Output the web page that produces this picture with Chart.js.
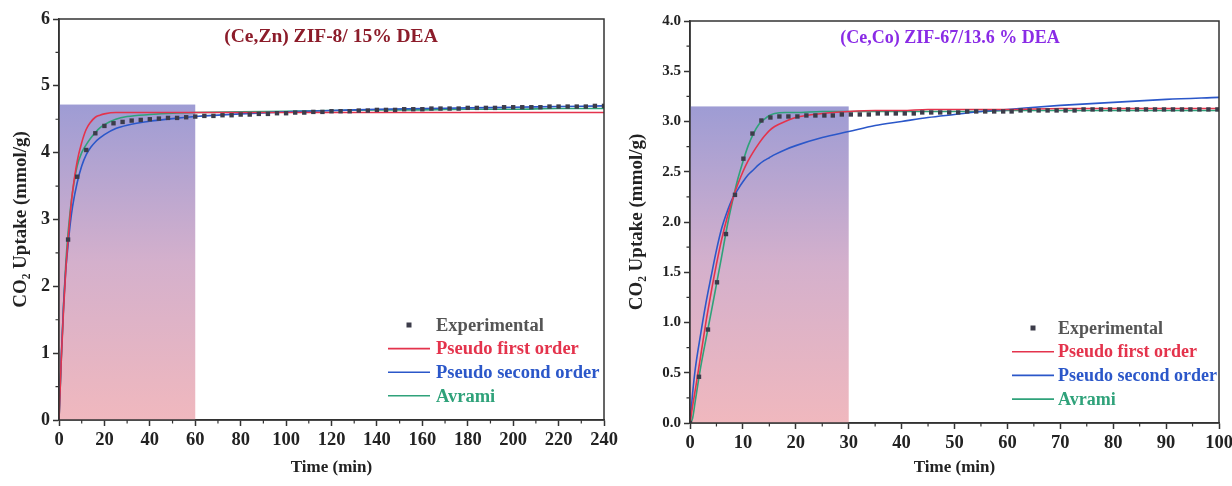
<!DOCTYPE html>
<html>
<head>
<meta charset="utf-8">
<script src="https://cdn.jsdelivr.net/npm/chart.js@4.4.1/dist/chart.umd.min.js"></script>
<style>
  html, body { margin: 0; padding: 0; background: #fff; }
  #wrap { position: relative; width: 1232px; height: 486px; overflow: hidden; }
  .box { position: absolute; top: 0; height: 486px; }
</style>
</head>
<body>
<div id="wrap">
  <div class="box" style="left:0;width:640px"><canvas id="chartZn"></canvas></div>
  <div class="box" style="left:616px;width:616px"><canvas id="chartCo"></canvas></div>
</div>
<script>
// ---- (Ce,Zn) ZIF-8 / 15% DEA ----
const znTime = [4, 8, 12, 16, 20, 24, 28, 32, 36, 40, 44, 48, 52, 56, 60, 64, 68, 72, 76, 80,
  84, 88, 92, 96, 100, 104, 108, 112, 116, 120, 124, 128, 132, 136, 140, 144, 148, 152, 156, 160,
  164, 168, 172, 176, 180, 184, 188, 192, 196, 200, 204, 208, 212, 216, 220, 224, 228, 232, 236, 240];
const znExp = [2.70, 3.64, 4.04, 4.29, 4.40, 4.44, 4.46, 4.48, 4.49, 4.50, 4.51, 4.52, 4.52, 4.53, 4.54, 4.55, 4.55, 4.56, 4.56, 4.57,
  4.57, 4.58, 4.58, 4.59, 4.59, 4.60, 4.60, 4.61, 4.61, 4.62, 4.62, 4.62, 4.63, 4.63, 4.64, 4.64, 4.64, 4.65, 4.65, 4.65,
  4.66, 4.66, 4.66, 4.66, 4.67, 4.67, 4.67, 4.67, 4.68, 4.68, 4.68, 4.68, 4.68, 4.69, 4.69, 4.69, 4.69, 4.69, 4.70, 4.70];
const znFitTime = [0, 1, 2, 3, 4, 5, 6, 8, 10, 12, 14, 16, 18, 20, 25, 30, 40, 50, 60, 80, 100, 120, 140, 160, 180, 200, 220, 240];
const znPFO = [0, 0.9, 1.65, 2.25, 2.7, 3.1, 3.42, 3.87, 4.15, 4.35, 4.46, 4.53, 4.56, 4.58,
  4.6, 4.6, 4.6, 4.6, 4.6, 4.6, 4.6, 4.6, 4.6, 4.6, 4.6, 4.6, 4.6, 4.6];
const znPSO = [0, 0.95, 1.7, 2.25, 2.62, 2.95, 3.2, 3.55, 3.8, 3.97, 4.08, 4.16, 4.22, 4.27,
  4.36, 4.41, 4.47, 4.51, 4.54, 4.58, 4.61, 4.63, 4.65, 4.66, 4.67, 4.68, 4.69, 4.7];
const znAvrami = [0, 0.9, 1.72, 2.35, 2.8, 3.15, 3.42, 3.8, 4.0, 4.12, 4.22, 4.3, 4.37, 4.42,
  4.5, 4.54, 4.57, 4.59, 4.6, 4.61, 4.62, 4.63, 4.64, 4.64, 4.65, 4.65, 4.66, 4.66];
const znShade = [0, 60, 4.72]; // from t, to t, height

// ---- (Ce,Co) ZIF-67 / 13.6 % DEA ----
const coTime = [0, 1.7, 3.4, 5.1, 6.8, 8.5, 10.1, 11.8, 13.5, 15.2, 16.9, 18.6, 20.3, 22.0, 23.7, 25.4, 27.0, 28.7, 30.4, 32.1,
  33.8, 35.5, 37.2, 38.9, 40.6, 42.3, 43.9, 45.6, 47.3, 49.0, 50.7, 52.4, 54.1, 55.8, 57.5, 59.2, 60.8, 62.5, 64.2, 65.9,
  67.6, 69.3, 71.0, 72.7, 74.4, 76.1, 77.7, 79.4, 81.1, 82.8, 84.5, 86.2, 87.9, 89.6, 91.3, 93.0, 94.6, 96.3, 98.0, 99.7];
const coExp = [0, 0.46, 0.93, 1.40, 1.88, 2.27, 2.63, 2.88, 3.01, 3.04, 3.05, 3.05, 3.05, 3.06, 3.06, 3.06, 3.06, 3.07, 3.07, 3.07,
  3.07, 3.08, 3.08, 3.08, 3.08, 3.08, 3.09, 3.09, 3.09, 3.09, 3.09, 3.10, 3.10, 3.10, 3.10, 3.10, 3.10, 3.11, 3.11, 3.11,
  3.11, 3.11, 3.11, 3.11, 3.12, 3.12, 3.12, 3.12, 3.12, 3.12, 3.12, 3.12, 3.12, 3.12, 3.12, 3.12, 3.12, 3.12, 3.12, 3.12];
const coFitTime = [0, 0.5, 1, 2, 3, 4, 5, 6, 7, 8, 9, 10, 11, 12, 13, 14, 15, 16, 18, 20, 25, 30, 35, 40, 45, 50, 55, 60, 70, 80, 90, 100];
const coPFO = [0, 0.17, 0.33, 0.66, 1.0, 1.3, 1.58, 1.83, 2.04, 2.22, 2.37, 2.5, 2.61, 2.7, 2.78, 2.85,
  2.91, 2.95, 3.0, 3.04, 3.08, 3.1, 3.11, 3.11, 3.12, 3.12, 3.12, 3.12, 3.13, 3.13, 3.13, 3.13];
const coPSO = [0, 0.3, 0.54, 0.88, 1.19, 1.46, 1.72, 1.94, 2.1, 2.23, 2.32, 2.4, 2.47, 2.52, 2.57, 2.61,
  2.64, 2.67, 2.72, 2.76, 2.84, 2.9, 2.96, 3.0, 3.04, 3.07, 3.1, 3.12, 3.16, 3.19, 3.22, 3.24];
const coAvrami = [0, 0.05, 0.22, 0.55, 0.83, 1.1, 1.38, 1.66, 1.95, 2.2, 2.42, 2.6, 2.76, 2.88, 2.97, 3.02,
  3.06, 3.08, 3.09, 3.09, 3.1, 3.1, 3.1, 3.1, 3.1, 3.1, 3.1, 3.11, 3.11, 3.11, 3.11, 3.11];
const coShade = [0, 30, 3.15];

const seriesNames = ['Experimental', 'Pseudo first order', 'Pseudo second order', 'Avrami'];
const seriesColors = ['#3c3c4a', '#e4334c', '#2b57c9', '#2fa27a'];
const legendTextColors = ['#555555', '#e4334c', '#2b57c9', '#2fa27a'];

const SERIF = '"Liberation Serif", "Times New Roman", serif';
const AXIS = '#333333';

const pairs = (xs, ys) => xs.map((x, i) => ({ x: x, y: ys[i] }));

// gradient box behind the early-time region
const shadePlugin = {
  id: 'shade',
  beforeDatasetsDraw(chart, args, opts) {
    const { ctx, scales: { x, y } } = chart;
    const x0 = x.getPixelForValue(opts.range[0]);
    const x1 = x.getPixelForValue(opts.range[1]);
    const yt = y.getPixelForValue(opts.range[2]);
    const yb = y.getPixelForValue(0);
    const g = ctx.createLinearGradient(0, yt, 0, yb);
    g.addColorStop(0, 'rgb(158,156,212)');
    g.addColorStop(0.5, 'rgb(212,176,204)');
    g.addColorStop(1, 'rgb(240,184,190)');
    ctx.save();
    ctx.fillStyle = g;
    ctx.fillRect(x0, yt, x1 - x0, yb - yt);
    ctx.restore();
  }
};

// box frame, minor ticks, inner title and legend
const decorPlugin = {
  id: 'decor',
  afterDraw(chart, args, opts) {
    const { ctx, chartArea: a, scales: { x, y } } = chart;
    ctx.save();
    ctx.strokeStyle = AXIS;
    ctx.lineWidth = 1.5;
    ctx.strokeRect(a.left, a.top, a.right - a.left, a.bottom - a.top);

    // minor ticks halfway between majors
    ctx.lineWidth = 1.2;
    ctx.beginPath();
    for (let i = 0; i < x.ticks.length - 1; i++) {
      const px = x.getPixelForValue((x.ticks[i].value + x.ticks[i + 1].value) / 2);
      ctx.moveTo(px, a.bottom); ctx.lineTo(px, a.bottom + 3.5);
    }
    for (let i = 0; i < y.ticks.length - 1; i++) {
      const py = y.getPixelForValue((y.ticks[i].value + y.ticks[i + 1].value) / 2);
      ctx.moveTo(a.left, py); ctx.lineTo(a.left - 3.5, py);
    }
    ctx.stroke();

    // sample label
    ctx.font = 'bold ' + opts.titleSize + 'px ' + SERIF;
    ctx.fillStyle = opts.titleColor;
    ctx.textAlign = 'center';
    ctx.textBaseline = 'middle';
    ctx.fillText(opts.title, opts.titleX, opts.titleY);

    // legend
    const L = opts.legend;
    ctx.font = 'bold ' + L.size + 'px ' + SERIF;
    ctx.textAlign = 'left';
    chart.data.datasets.forEach((ds, i) => {
      const yy = L.y + i * L.gap;
      if (i === 0) {
        ctx.fillStyle = ds.borderColor;
        ctx.fillRect(L.x + (L.len - 5) / 2, yy - 2.5, 5, 5);
      } else {
        ctx.strokeStyle = ds.borderColor;
        ctx.lineWidth = 1.6;
        ctx.beginPath(); ctx.moveTo(L.x, yy); ctx.lineTo(L.x + L.len, yy); ctx.stroke();
      }
      ctx.fillStyle = legendTextColors[i];
      ctx.fillText(ds.label, L.textX, yy + 1);
    });
    ctx.restore();
  }
};

function buildDatasets(expT, expV, fitT, pfo, pso, avr) {
  const fits = [pfo, pso, avr];
  const sets = [{
    label: seriesNames[0],
    data: pairs(expT, expV),
    showLine: false,
    pointStyle: 'rect',
    pointRadius: 3.1,
    backgroundColor: seriesColors[0],
    borderColor: seriesColors[0],
    borderWidth: 0
  }];
  fits.forEach((vals, k) => {
    sets.push({
      label: seriesNames[k + 1],
      data: pairs(fitT, vals),
      showLine: true,
      pointRadius: 0,
      borderColor: seriesColors[k + 1],
      borderWidth: 1.6,
      cubicInterpolationMode: 'monotone'
    });
  });
  return sets;
}

function makeChart(id, cfg) {
  return new Chart(document.getElementById(id), {
    type: 'scatter',
    data: { datasets: cfg.datasets },
    plugins: [shadePlugin, decorPlugin],
    options: {
      responsive: true,
      maintainAspectRatio: false,
      animation: false,
      events: [],
      layout: { padding: { top: cfg.top, right: cfg.right, left: 0, bottom: 0 } },
      scales: {
        x: {
          type: 'linear', min: 0, max: cfg.xMax,
          ticks: { stepSize: cfg.xStep, color: '#222', padding: 3, font: { family: SERIF, size: 18.5, weight: 'bold' } },
          grid: { drawOnChartArea: false, tickLength: 6, tickColor: AXIS, tickWidth: 1.5 },
          border: { color: AXIS, width: 1.5 },
          title: { display: true, text: 'Time (min)', color: '#222', padding: { top: 0, bottom: 8 }, font: { family: SERIF, size: 17, weight: 'bold' } },
          afterFit: s => { s.height = cfg.xAxisH; s.paddingLeft = 0; s.paddingRight = 0; }
        },
        y: {
          type: 'linear', min: 0, max: cfg.yMax,
          ticks: {
            stepSize: cfg.yStep, color: '#222', padding: 3,
            font: { family: SERIF, size: cfg.yFont, weight: 'bold' },
            callback: v => v.toFixed(cfg.yDigits)
          },
          grid: { drawOnChartArea: false, tickLength: 6, tickColor: AXIS, tickWidth: 1.5 },
          border: { color: AXIS, width: 1.5 },
          title: { display: true, text: 'CO₂ Uptake (mmol/g)', color: '#222', padding: { top: 10, bottom: 0 }, font: { family: SERIF, size: 19, weight: 'bold' } },
          afterFit: s => { s.width = cfg.yAxisW; s.paddingTop = 0; s.paddingBottom = 0; }
        }
      },
      plugins: {
        legend: { display: false },
        tooltip: { enabled: false },
        shade: { range: cfg.shade },
        decor: cfg.decor
      }
    }
  });
}

makeChart('chartZn', {
  datasets: buildDatasets(znTime, znExp, znFitTime, znPFO, znPSO, znAvrami),
  xMax: 240, xStep: 20, yMax: 6, yStep: 1, yDigits: 0, yFont: 18,
  top: 19, right: 36, xAxisH: 66, yAxisW: 59,
  shade: znShade,
  decor: {
    title: '(Ce,Zn) ZIF-8/ 15% DEA', titleColor: '#8c1c2a', titleSize: 19.5, titleX: 331, titleY: 37,
    legend: { x: 388, len: 42, textX: 436, y: 325, gap: 23.6, size: 18.5 }
  }
});

makeChart('chartCo', {
  datasets: buildDatasets(coTime, coExp, coFitTime, coPFO, coPSO, coAvrami),
  xMax: 100, xStep: 10, yMax: 4, yStep: 0.5, yDigits: 1, yFont: 15,
  top: 21, right: 13, xAxisH: 63, yAxisW: 74,
  shade: coShade,
  decor: {
    title: '(Ce,Co) ZIF-67/13.6 % DEA', titleColor: '#8a2be6', titleSize: 18, titleX: 334, titleY: 38,
    legend: { x: 396, len: 42, textX: 442, y: 328, gap: 23.7, size: 18 }
  }
});
</script>
</body>
</html>
